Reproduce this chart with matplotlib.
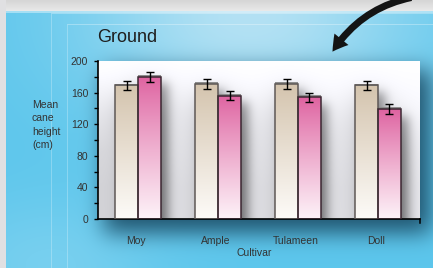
import numpy as np
import matplotlib
matplotlib.use("Agg")
import matplotlib.pyplot as plt
from matplotlib.patches import FancyArrowPatch

# ---------------- data ----------------
cultivars = ["Moy", "Ample", "Tulameen", "Doll"]
series_a = [169, 171, 171, 169]   # tan bars
series_b = [180, 156, 154, 139]   # pink bars
err_a = [6, 6, 6, 6]
err_b = [6, 6, 6, 6]
yticks = [0, 40, 80, 120, 160, 200]
title = "Ground"
ylabel = "Mean\ncane\nheight\n(cm)"
xlabel = "Cultivar"

plt.rcParams["font.family"] = ["Liberation Sans", "DejaVu Sans"]

W, H = 433, 268
fig = plt.figure(figsize=(W / 100, H / 100), dpi=100)


def blur(a, s):
    r = int(3 * s)
    k = np.exp(-0.5 * (np.arange(-r, r + 1) / s) ** 2)
    k /= k.sum()
    a = np.apply_along_axis(lambda v: np.convolve(v, k, mode="same"), 0, a)
    a = np.apply_along_axis(lambda v: np.convolve(v, k, mode="same"), 1, a)
    return a


# ---------------- decorative background ----------------
yy, xx = np.mgrid[0:H, 0:W].astype(float)
blue = np.array([92, 198, 236]) / 255
light = np.array([208, 234, 246]) / 255
glow = np.exp(-(((xx - 250) / 170) ** 2 + ((yy - 15) / 110) ** 2))[..., None]
img = blue * (1 - 0.75 * glow) + light * 0.75 * glow
glow2 = np.exp(-(((xx - 50) / 110) ** 2 + ((yy - 265) / 70) ** 2))[..., None]
img = img * (1 - 0.35 * glow2) + np.array([170, 225, 245]) / 255 * 0.35 * glow2

mask = ((xx >= 104) & (xx <= 430) & (yy >= 70) & (yy <= 232)).astype(float)
sh = np.clip(blur(mask, 11) * 1.1, 0, 1)[..., None]
dark = np.array([28, 78, 104]) / 255
img = img * (1 - 0.85 * sh) + dark * 0.85 * sh

for (x0, y0) in [(51, 13), (67, 24)]:
    img[y0, x0:] = img[y0, x0:] * 0.7 + 0.3
    img[y0 + 1:, x0] = img[y0 + 1:, x0] * 0.75 + 0.25

img[:11, :] = (np.linspace(214, 232, 11) / 255)[:, None, None] * np.ones((1, W, 3))
img[:, :6] = np.array([224, 224, 226]) / 255
img[11:13, 6:] = img[11:13, 6:] * 0.6 + 0.4

bg = fig.add_axes([0, 0, 1, 1])
bg.imshow(np.clip(img, 0, 1), extent=(0, W, H, 0), aspect="auto", interpolation="bilinear")
bg.set_xlim(0, W)
bg.set_ylim(H, 0)
bg.axis("off")

arrow = FancyArrowPatch(posA=(414, -3), posB=(331, 54), connectionstyle="arc3,rad=0.22",
                        arrowstyle="simple,head_width=13,head_length=11,tail_width=5",
                        mutation_scale=1, color="#141414", lw=0)
bg.add_patch(arrow)

# ---------------- plot axes ----------------
ax_l, ax_r, ax_t, ax_b = 98, 420, 61, 219
ax = fig.add_axes([ax_l / W, 1 - ax_b / H, (ax_r - ax_l) / W, (ax_b - ax_t) / H])
xlim = (-0.5, 3.525)
ylim = (0, 200)
x = np.arange(len(cultivars))
w = 0.2875

# inner shading of the plot area (white with grey bar shadows)
ph, pw = ax_b - ax_t, ax_r - ax_l
ry, rx = np.mgrid[0:ph, 0:pw].astype(float)
sx = pw / (xlim[1] - xlim[0])
sy = ph / (ylim[1] - ylim[0])


def bar_mask(shift_x, shift_y):
    m = np.zeros((ph + 60, pw + 60))
    for xs, vals in [(x - w / 2, series_a), (x + w / 2, series_b)]:
        for xc, v in zip(xs, vals):
            c0 = int((xc - w / 2 - xlim[0]) * sx) + shift_x + 30
            c1 = int((xc + w / 2 - xlim[0]) * sx) + shift_x + 30
            r0 = int((ylim[1] - v) * sy) + shift_y + 30
            m[r0:, c0:c1] = 1
    return m


S1 = blur(bar_mask(7, 8), 5)[30:30 + ph, 30:30 + pw]
S2 = blur(bar_mask(2, 14), 16)[30:30 + ph, 30:30 + pw]
shade = 1 - 0.33 * S1 - 0.28 * S2 - 0.06 * np.clip((ry - 5) / 120, 0, 1)
shade -= 0.08 * np.clip(1 - rx / 20, 0, 1) * np.clip((ry - 10) / 80, 0, 1)
shade = np.clip(shade, 0, 1)
shade_rgb = shade[..., None] * np.array([1.0, 1.0, 1.02])
ax.imshow(np.clip(shade_rgb, 0, 1), extent=(xlim[0], xlim[1], ylim[0], ylim[1]),
          aspect="auto", zorder=0, interpolation="bilinear")


def grad(top, bottom, n=100, g=1.0):
    t = np.linspace(0, 1, n) ** g
    top = np.array(top) / 255
    bottom = np.array(bottom) / 255
    return (top[None, :] * (1 - t[:, None]) + bottom[None, :] * t[:, None])[:, None, :]


tan_g = grad((212, 196, 174), (253, 251, 248), g=1.0)
pink_g = grad((222, 98, 160), (253, 242, 248), g=0.9)

for xc, v in zip(x - w / 2, series_a):
    ax.imshow(tan_g, extent=(xc - w / 2, xc + w / 2, 0, v), aspect="auto", zorder=2)
for xc, v in zip(x + w / 2, series_b):
    ax.imshow(pink_g, extent=(xc - w / 2, xc + w / 2, 0, v), aspect="auto", zorder=2)

# soft grey line along bar tops
ax.hlines(np.array(series_a) + 1.2, x - w, x, color="#8c8c8c", lw=1.4, zorder=2.5)
ax.hlines(np.array(series_b) + 1.2, x, x + w, color="#8c8c8c", lw=1.4, zorder=2.5)
ax.bar(x - w / 2, series_a, width=w, fill=False, edgecolor="#5e5856", linewidth=1.1, zorder=3)
ax.bar(x + w / 2, series_b, width=w, fill=False, edgecolor="#3c2832", linewidth=1.1, zorder=3)
ax.errorbar(x - w / 2, series_a, yerr=err_a, fmt="none", ecolor="black", elinewidth=1,
            capsize=3.2, capthick=1, zorder=4)
ax.errorbar(x + w / 2, series_b, yerr=err_b, fmt="none", ecolor="black", elinewidth=1,
            capsize=3.2, capthick=1, zorder=4)

ax.set_xlim(*xlim)
ax.set_ylim(*ylim)
for s in ["top", "right"]:
    ax.spines[s].set_visible(False)
for s in ["left", "bottom"]:
    ax.spines[s].set_color("black")
    ax.spines[s].set_linewidth(1.2)
ax.plot([1, 1], [0, -0.028], transform=ax.transAxes, clip_on=False, color="black", lw=1.1)

ax.set_yticks(yticks)
ax.set_yticks([20, 60, 100, 140, 180], minor=True)
ax.tick_params(axis="y", which="both", direction="out", length=3, width=1, color="black",
               labelsize=7.5, labelcolor="#333333", pad=4)
ax.set_xticks(x - 0.03)
ax.set_xticklabels(cultivars)
ax.tick_params(axis="x", length=0, labelsize=7.5, labelcolor="#333333", pad=12)

fig.text(97 / W, 1 - 37 / H, title, fontsize=13, color="#1e1e1e", ha="left", va="center")
fig.text(32 / W, 1 - 125 / H, ylabel, fontsize=7.5, color="#333333", ha="left", va="center",
         linespacing=1.4)
fig.text(254 / W, 1 - 253 / H, xlabel, fontsize=7.5, color="#333333", ha="center", va="center")

fig.savefig("out.png", dpi=100)
